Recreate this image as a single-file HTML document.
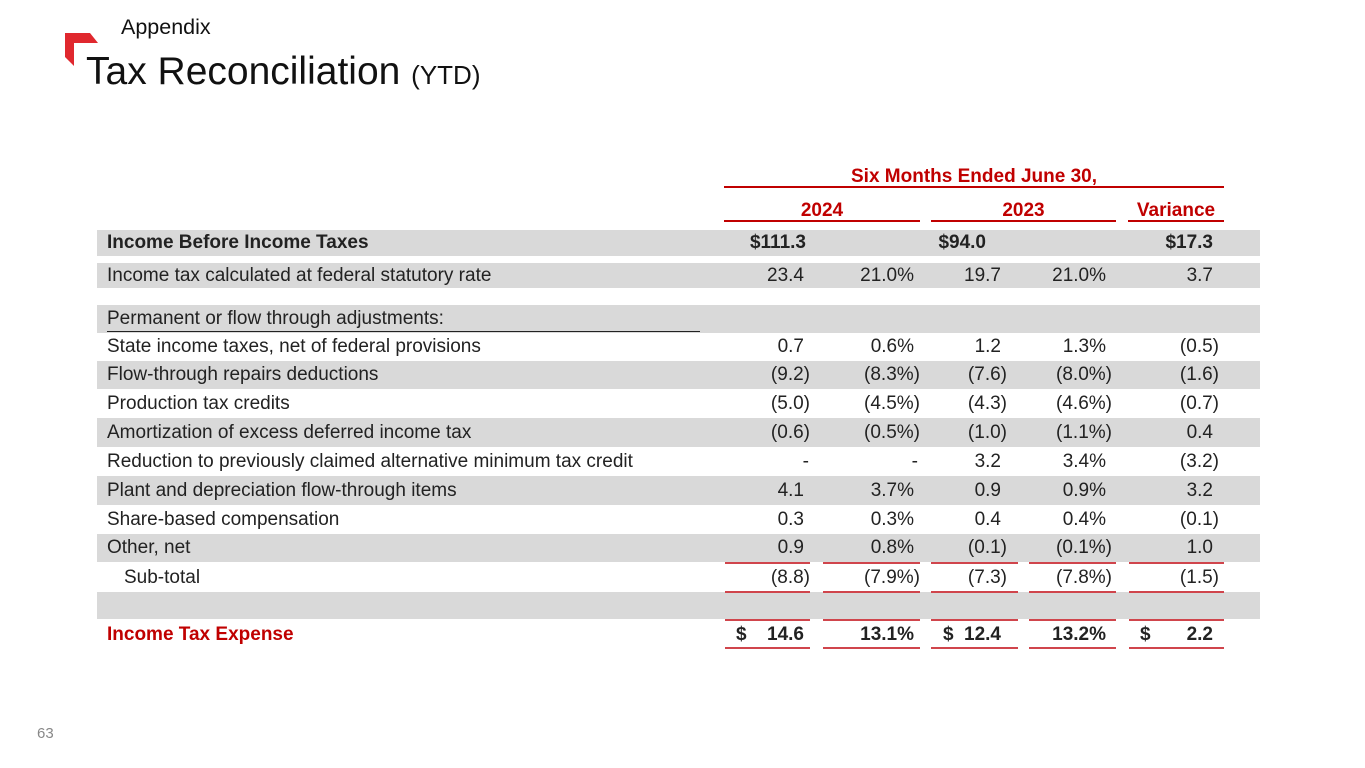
<!DOCTYPE html>
<html><head><meta charset="utf-8">
<style>
body{margin:0;width:1365px;height:768px;background:#fff;position:relative;overflow:hidden;font-family:"Liberation Sans",Arial,sans-serif;color:#222}
.a{position:absolute;white-space:nowrap}
.bg{position:absolute;left:97px;width:1163px;background:#d9d9d9}
.t{position:absolute;font-size:19px;line-height:20px;white-space:nowrap}
.r{text-align:right}
.ln{position:absolute;height:2px;background:#c00000}
.cp{margin-right:-6px}
</style></head><body>
<svg class="a" style="left:0;top:0" width="110" height="70"><polygon points="65,33 90,33 98,43 74,43 74,66 65,57" fill="#e0282e"/></svg>
<div class="a" style="left:121px;top:15px;font-size:21.5px;color:#111">Appendix</div>
<div class="a" style="left:86px;top:50px;font-size:39px;color:#111">Tax Reconciliation <span style="font-size:26px">(YTD)</span></div>
<div class="a" style="left:37px;top:725px;font-size:15px;color:#888">63</div>

<div class="a" style="left:724px;width:500px;top:166px;text-align:center;font-size:19px;font-weight:bold;color:#c00000">Six Months Ended June 30,</div>
<div class="ln" style="left:724px;width:500px;top:186px"></div>
<div class="a" style="left:724px;width:196px;top:200px;text-align:center;font-size:19px;font-weight:bold;color:#c00000">2024</div>
<div class="a" style="left:931px;width:185px;top:200px;text-align:center;font-size:19px;font-weight:bold;color:#c00000">2023</div>
<div class="a" style="left:1128px;width:96px;top:200px;text-align:center;font-size:19px;font-weight:bold;color:#c00000">Variance</div>
<div class="ln" style="left:724px;width:196px;top:220px"></div>
<div class="ln" style="left:931px;width:185px;top:220px"></div>
<div class="ln" style="left:1128px;width:96px;top:220px"></div>

<div id="tbl"></div>
<script>
const labels=["Income Before Income Taxes","Income tax calculated at federal statutory rate","Permanent or flow through adjustments:","State income taxes, net of federal provisions","Flow-through repairs deductions","Production tax credits","Amortization of excess deferred income tax","Reduction to previously claimed alternative minimum tax credit","Plant and depreciation flow-through items","Share-based compensation","Other, net","Sub-total","","Income Tax Expense"];
const amt2024=["$111.3","23.4","","0.7","(9.2)","(5.0)","(0.6)","-","4.1","0.3","0.9","(8.8)","","14.6"];
const pct2024=["","21.0%","","0.6%","(8.3%)","(4.5%)","(0.5%)","-","3.7%","0.3%","0.8%","(7.9%)","","13.1%"];
const amt2023=["$94.0","19.7","","1.2","(7.6)","(4.3)","(1.0)","3.2","0.9","0.4","(0.1)","(7.3)","","12.4"];
const pct2023=["","21.0%","","1.3%","(8.0%)","(4.6%)","(1.1%)","3.4%","0.9%","0.4%","(0.1%)","(7.8%)","","13.2%"];
const variance=["$17.3","3.7","","(0.5)","(1.6)","(0.7)","0.4","(3.2)","3.2","(0.1)","1.0","(1.5)","","2.2"];
const rowTop=[230,263,305,333,361,389,418,447,476,505,534,563,592,621];
const rowH=[26,25,28,28,28,29,29,29,29,29,28,29,27,28];
const gray=[1,1,0,0,1,0,1,0,1,0,1,0,1,0];
const colRight=[804,914,1001,1106,1213];
const tbl=document.getElementById('tbl');
function fmt(v){return v.endsWith(')')?v.slice(0,-1)+'<span class="cp">)</span>':v;}
rowTop.forEach((y,i)=>{
  if(gray[i]||i===2){const g=document.createElement('div');g.className='bg';g.style.top=y+'px';g.style.height=rowH[i]+'px';
  
  tbl.appendChild(g);}
  const cy=y+rowH[i]/2-10;
  const bold=(i===0||i===13), red=i===13;
  const l=document.createElement('div');l.className='t';
  l.style.left=(i===11?124:107)+'px';l.style.top=cy+'px';
  if(bold)l.style.fontWeight='bold';if(red)l.style.color='#c00000';
  l.textContent=labels[i];
  
  
  tbl.appendChild(l);
  const vals=[amt2024[i],pct2024[i],amt2023[i],pct2023[i],variance[i]];
  vals.forEach((v,c)=>{
    if(!v)return;
    const d=document.createElement('div');d.className='t r';
    let right=colRight[c];
    if(i===0){right=[806,0,986,0,1213][c];}
    if(v==='-')right=c===0?809:918;
    d.style.right=(1365-right)+'px';d.style.top=cy+'px';
    if(bold)d.style.fontWeight='bold';
    d.innerHTML=fmt(v);
    
    
    tbl.appendChild(d);
    if(red&&c%2===0){const s=document.createElement('div');s.className='t';s.style.left=[736,0,943,0,1140][c]+'px';s.style.top=cy+'px';s.style.fontWeight='bold';s.textContent='$';
    
    tbl.appendChild(s);}
  });
});
const ul=document.createElement('div');ul.className='a';ul.style.cssText='left:107px;width:593px;top:331px;height:1px;background:#222';

tbl.appendChild(ul);
const segs=[[725,85],[823,97],[931,87],[1029,87],[1129,95]];
[562,591,619,647].forEach(y=>segs.forEach(s=>{const d=document.createElement('div');d.className='ln';d.style.left=s[0]+'px';d.style.width=s[1]+'px';d.style.top=y+'px';d.style.background='#d0454c';

tbl.appendChild(d);}));
</script>
</body></html>
